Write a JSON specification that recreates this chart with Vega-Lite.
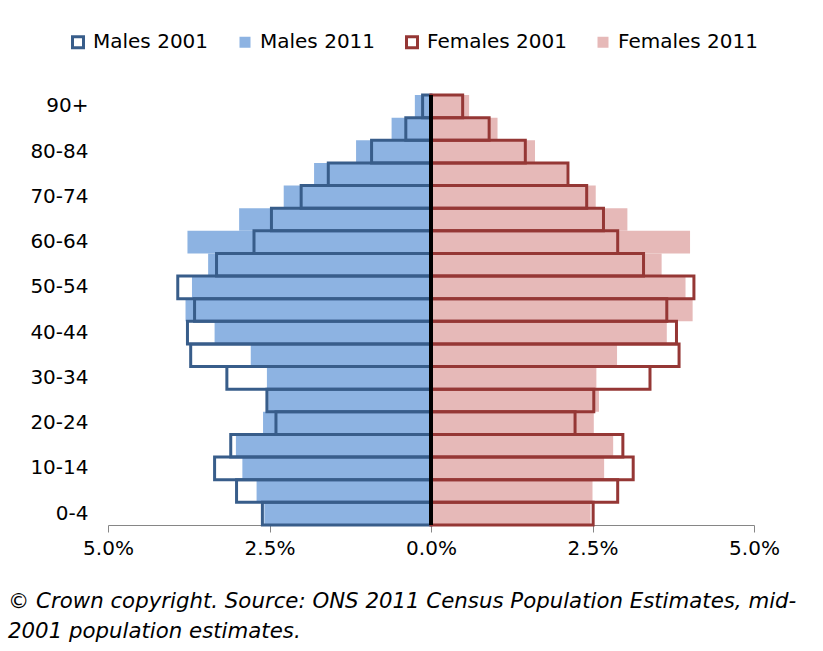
{
  "$schema": "https://vega.github.io/schema/vega-lite/v6.json",
  "width": 646,
  "height": 430,
  "autosize": {"type": "none"},
  "padding": {"left": 108, "top": 95, "right": 69, "bottom": 126},
  "background": "white",
  "config": {
    "view": {"stroke": null},
    "font": "DejaVu Sans"
  },
  "title": {
    "text": ["© Crown copyright. Source: ONS 2011 Census Population Estimates, mid-", "2001 population estimates."],
    "orient": "bottom",
    "anchor": "start",
    "frame": "group",
    "dx": -100,
    "offset": 33,
    "font": "DejaVu Sans",
    "fontSize": 21.3,
    "fontStyle": "italic",
    "fontWeight": "normal",
    "lineHeight": 30,
    "color": "black"
  },
  "data": {
    "values": [
      {"age": "0-4", "series": "Males 2011", "value": -2.58},
      {"age": "5-9", "series": "Males 2011", "value": -2.70},
      {"age": "10-14", "series": "Males 2011", "value": -2.92},
      {"age": "15-19", "series": "Males 2011", "value": -3.02},
      {"age": "20-24", "series": "Males 2011", "value": -2.60},
      {"age": "25-29", "series": "Males 2011", "value": -2.52},
      {"age": "30-34", "series": "Males 2011", "value": -2.54},
      {"age": "35-39", "series": "Males 2011", "value": -2.79},
      {"age": "40-44", "series": "Males 2011", "value": -3.35},
      {"age": "45-49", "series": "Males 2011", "value": -3.80},
      {"age": "50-54", "series": "Males 2011", "value": -3.70},
      {"age": "55-59", "series": "Males 2011", "value": -3.45},
      {"age": "60-64", "series": "Males 2011", "value": -3.77},
      {"age": "65-69", "series": "Males 2011", "value": -2.97},
      {"age": "70-74", "series": "Males 2011", "value": -2.28},
      {"age": "75-79", "series": "Males 2011", "value": -1.81},
      {"age": "80-84", "series": "Males 2011", "value": -1.16},
      {"age": "85-89", "series": "Males 2011", "value": -0.61},
      {"age": "90+", "series": "Males 2011", "value": -0.25},
      {"age": "0-4", "series": "Females 2011", "value": 2.47},
      {"age": "5-9", "series": "Females 2011", "value": 2.50},
      {"age": "10-14", "series": "Females 2011", "value": 2.68},
      {"age": "15-19", "series": "Females 2011", "value": 2.82},
      {"age": "20-24", "series": "Females 2011", "value": 2.52},
      {"age": "25-29", "series": "Females 2011", "value": 2.60},
      {"age": "30-34", "series": "Females 2011", "value": 2.56},
      {"age": "35-39", "series": "Females 2011", "value": 2.88},
      {"age": "40-44", "series": "Females 2011", "value": 3.65},
      {"age": "45-49", "series": "Females 2011", "value": 4.05},
      {"age": "50-54", "series": "Females 2011", "value": 3.94},
      {"age": "55-59", "series": "Females 2011", "value": 3.57},
      {"age": "60-64", "series": "Females 2011", "value": 4.01},
      {"age": "65-69", "series": "Females 2011", "value": 3.04},
      {"age": "70-74", "series": "Females 2011", "value": 2.55},
      {"age": "75-79", "series": "Females 2011", "value": 2.10},
      {"age": "80-84", "series": "Females 2011", "value": 1.61},
      {"age": "85-89", "series": "Females 2011", "value": 1.03},
      {"age": "90+", "series": "Females 2011", "value": 0.59},
      {"age": "0-4", "series": "Males 2001", "value": -2.61},
      {"age": "5-9", "series": "Males 2001", "value": -3.01},
      {"age": "10-14", "series": "Males 2001", "value": -3.35},
      {"age": "15-19", "series": "Males 2001", "value": -3.10},
      {"age": "20-24", "series": "Males 2001", "value": -2.40},
      {"age": "25-29", "series": "Males 2001", "value": -2.54},
      {"age": "30-34", "series": "Males 2001", "value": -3.16},
      {"age": "35-39", "series": "Males 2001", "value": -3.72},
      {"age": "40-44", "series": "Males 2001", "value": -3.77},
      {"age": "45-49", "series": "Males 2001", "value": -3.66},
      {"age": "50-54", "series": "Males 2001", "value": -3.92},
      {"age": "55-59", "series": "Males 2001", "value": -3.32},
      {"age": "60-64", "series": "Males 2001", "value": -2.74},
      {"age": "65-69", "series": "Males 2001", "value": -2.47},
      {"age": "70-74", "series": "Males 2001", "value": -2.01},
      {"age": "75-79", "series": "Males 2001", "value": -1.59},
      {"age": "80-84", "series": "Males 2001", "value": -0.92},
      {"age": "85-89", "series": "Males 2001", "value": -0.39},
      {"age": "90+", "series": "Males 2001", "value": -0.13},
      {"age": "0-4", "series": "Females 2001", "value": 2.51},
      {"age": "5-9", "series": "Females 2001", "value": 2.89},
      {"age": "10-14", "series": "Females 2001", "value": 3.13},
      {"age": "15-19", "series": "Females 2001", "value": 2.97},
      {"age": "20-24", "series": "Females 2001", "value": 2.23},
      {"age": "25-29", "series": "Females 2001", "value": 2.52},
      {"age": "30-34", "series": "Females 2001", "value": 3.39},
      {"age": "35-39", "series": "Females 2001", "value": 3.84},
      {"age": "40-44", "series": "Females 2001", "value": 3.80},
      {"age": "45-49", "series": "Females 2001", "value": 3.65},
      {"age": "50-54", "series": "Females 2001", "value": 4.07},
      {"age": "55-59", "series": "Females 2001", "value": 3.29},
      {"age": "60-64", "series": "Females 2001", "value": 2.89},
      {"age": "65-69", "series": "Females 2001", "value": 2.67},
      {"age": "70-74", "series": "Females 2001", "value": 2.41},
      {"age": "75-79", "series": "Females 2001", "value": 2.12},
      {"age": "80-84", "series": "Females 2001", "value": 1.46},
      {"age": "85-89", "series": "Females 2001", "value": 0.90},
      {"age": "90+", "series": "Females 2001", "value": 0.49}
    ]
  },
  "layer": [
    {
      "mark": {"type": "bar", "strokeWidth": 3, "strokeJoin": "miter"},
      "encoding": {
        "y": {
          "field": "age",
          "type": "nominal",
          "scale": {
            "domain": ["90+", "85-89", "80-84", "75-79", "70-74", "65-69", "60-64", "55-59", "50-54", "45-49", "40-44", "35-39", "30-34", "25-29", "20-24", "15-19", "10-14", "5-9", "0-4"],
            "paddingInner": 0,
            "paddingOuter": 0
          },
          "axis": {
            "title": null,
            "values": ["90+", "80-84", "70-74", "60-64", "50-54", "40-44", "30-34", "20-24", "10-14", "0-4"],
            "domain": false,
            "ticks": false,
            "labelPadding": 20,
            "labelFontSize": 20,
            "labelColor": "black",
            "labelFont": "DejaVu Sans"
          }
        },
        "x": {
          "field": "value",
          "type": "quantitative",
          "stack": null,
          "scale": {"domain": [-5, 5], "nice": false},
          "axis": {
            "title": null,
            "grid": false,
            "values": [-5, -2.5, 0, 2.5, 5],
            "labelExpr": "format(abs(datum.value), '.1f') + '%'",
            "labelFlush": false,
            "domainColor": "#868686",
            "tickColor": "#868686",
            "tickSize": 7,
            "labelFontSize": 20,
            "labelColor": "black",
            "labelPadding": 6,
            "labelFont": "DejaVu Sans"
          }
        },
        "fill": {
          "field": "series",
          "type": "nominal",
          "scale": {
            "domain": ["Males 2001", "Males 2011", "Females 2001", "Females 2011"],
            "range": ["transparent", "#8db3e2", "transparent", "#e6b9b8"]
          },
          "legend": {
            "title": null,
            "orient": "none",
            "direction": "horizontal",
            "legendX": -40,
            "legendY": -63,
            "symbolType": "square",
            "symbolSize": 121,
            "symbolStrokeWidth": 3,
            "labelFontSize": 20,
            "labelColor": "black",
            "labelFont": "DejaVu Sans",
            "labelOffset": 5,
            "columnPadding": 24
          }
        },
        "stroke": {
          "field": "series",
          "type": "nominal",
          "scale": {
            "domain": ["Males 2001", "Males 2011", "Females 2001", "Females 2011"],
            "range": ["#385d8a", "transparent", "#953735", "transparent"]
          },
          "legend": {
            "title": null,
            "orient": "none",
            "direction": "horizontal",
            "legendX": -40,
            "legendY": -63,
            "symbolType": "square",
            "symbolSize": 121,
            "symbolStrokeWidth": 3,
            "labelFontSize": 20,
            "labelColor": "black",
            "labelFont": "DejaVu Sans",
            "labelOffset": 5,
            "columnPadding": 24
          }
        }
      }
    },
    {
      "mark": {"type": "rule", "color": "black", "strokeWidth": 3},
      "encoding": {"x": {"datum": 0}}
    }
  ]
}
